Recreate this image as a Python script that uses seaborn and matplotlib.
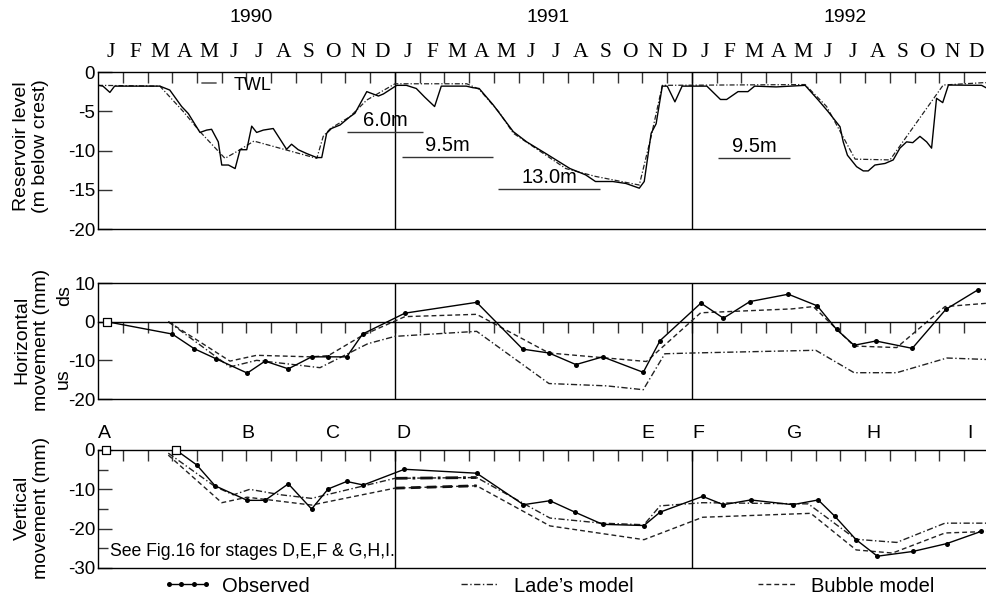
import matplotlib
matplotlib.use("Agg")
import matplotlib.pyplot as plt
import matplotlib.transforms as mtransforms
from matplotlib.lines import Line2D
import numpy as np
import pandas as pd
import seaborn as sns

# ---------------- data (x = months since 1 Jan 1990) ----------------
years = ["1990", "1991", "1992"]
month_letters = ["J", "F", "M", "A", "M", "J", "J", "A", "S", "O", "N", "D"]

# Reservoir level, observed (solid)
twl_observed = [
    (0.0, -1.7), (0.2, -1.8), (0.48, -2.6), (0.67, -1.8), (2.5, -1.8), (2.9, -2.3),
    (3.38, -4.4), (3.65, -5.3), (4.12, -7.7), (4.39, -7.4), (4.59, -7.3), (4.86, -8.9),
    (5.0, -11.85), (5.27, -11.85), (5.54, -12.3), (5.74, -9.9), (6.01, -9.9), (6.21, -6.9),
    (6.41, -7.7), (6.68, -7.4), (7.08, -7.2), (7.62, -9.85), (7.82, -9.2), (8.09, -9.9),
    (8.44, -10.4), (8.84, -10.9), (9.04, -10.9), (9.24, -7.8), (9.43, -7.2), (9.78, -6.75),
    (10.18, -5.7), (10.38, -5.26), (10.86, -2.5), (11.33, -3.06), (11.53, -2.8), (12.07, -1.7),
    (12.46, -1.7), (12.86, -2.1), (13.2, -3.2), (13.6, -4.4), (13.87, -1.8), (14.88, -1.8),
    (15.15, -2.0), (15.4, -2.1), (15.97, -4.2), (16.78, -7.6), (17.32, -8.9), (18.1, -10.4),
    (19.07, -12.3), (19.7, -13.1), (20.1, -13.95), (20.8, -13.95), (21.33, -14.2), (21.87, -14.8),
    (22.07, -13.95), (22.35, -7.8), (22.55, -6.6), (22.8, -1.8), (23.0, -1.8), (23.31, -3.8),
    (23.6, -1.8), (24.6, -1.8), (25.15, -3.5), (25.4, -3.5), (25.86, -2.5), (26.26, -2.5),
    (26.53, -1.8), (27.4, -1.9), (28.57, -1.7), (29.1, -3.57), (29.5, -5.05), (29.98, -6.97),
    (30.11, -8.9), (30.28, -10.6), (30.65, -12.06), (30.92, -12.6), (31.12, -12.6), (31.39, -11.85),
    (31.8, -11.65), (32.13, -11.2), (32.4, -9.7), (32.67, -8.9), (32.92, -9.0), (33.21, -8.2),
    (33.48, -8.9), (33.68, -9.7), (33.88, -3.35), (34.13, -3.9), (34.36, -1.66), (35.7, -1.7),
    (36.0, -2.2),
]
# Reservoir level, model input (dash-dot)
twl_model = [
    (0.0, -1.7), (2.5, -1.8), (3.45, -5.05), (4.12, -7.6), (5.13, -11.0), (5.6, -10.15),
    (6.3, -8.8), (8.84, -11.0), (9.1, -8.2), (9.39, -7.2), (10.18, -5.7), (10.86, -3.57),
    (12.0, -1.5), (14.9, -1.5), (15.4, -2.2), (16.2, -5.1), (16.78, -7.8), (18.9, -12.3),
    (20.1, -13.3), (21.87, -14.4), (22.35, -8.2), (22.8, -1.7), (28.57, -1.6), (29.44, -4.4),
    (30.11, -8.3), (30.59, -11.1), (32.0, -11.2), (34.15, -1.66), (35.77, -1.36), (36.0, -1.36),
]
# drawdown notes: (text, start month, end month, level)
drawdown_notes = [("6.0m", 10.06, 13.13, -7.64), ("9.5m", 12.3, 15.96, -10.8),
                  ("13.0m", 16.16, 20.28, -14.9), ("9.5m", 25.05, 27.96, -11.0)]

# Horizontal movement (mm)
horiz_start = [(0.35, 0.0)]
horiz_observed = [
    (0.35, 0.0), (3.0, -3.2), (3.89, -7.0), (4.77, -9.6), (6.03, -13.3), (6.75, -10.2),
    (7.69, -12.2), (8.63, -9.1), (9.3, -9.1), (10.05, -9.1), (10.69, -3.2), (12.4, 2.2),
    (15.3, 5.0), (17.16, -7.1), (18.22, -8.1), (19.31, -11.1), (20.39, -9.1), (22.03, -13.1),
    (22.71, -4.9), (24.36, 4.8), (25.27, 0.9), (26.34, 5.2), (27.89, 7.1), (29.06, 4.1),
    (29.84, -2.0), (30.55, -6.1), (31.43, -5.0), (32.9, -6.9), (34.26, 3.2), (35.57, 8.3),
]
horiz_lade = [
    (2.84, 0.0), (5.33, -11.7), (6.41, -10.0), (7.5, -10.8), (8.97, -11.9), (10.9, -5.7),
    (12.0, -3.8), (15.3, -2.5), (18.22, -16.0), (20.55, -16.6), (22.03, -17.6), (22.9, -8.3),
    (24.05, -8.1), (29.0, -7.4), (30.55, -13.2), (32.27, -13.2), (34.3, -9.4), (36.0, -9.8),
]
horiz_bubble = [
    (2.84, 0.0), (5.33, -10.2), (6.41, -8.7), (8.6, -9.1), (9.3, -8.8), (10.7, -3.5),
    (12.4, 1.3), (15.3, 1.9), (18.22, -8.1), (22.16, -10.3), (24.35, 2.3), (28.03, 3.3),
    (28.9, 3.9), (30.55, -6.3), (32.27, -6.7), (34.22, 3.9), (36.0, 4.8),
]

# Vertical movement (mm)
vert_start = [(0.32, 0.0), (3.15, 0.0)]
vert_observed = [
    (3.15, 0.0), (3.99, -3.8), (4.73, -9.1), (6.03, -12.8), (6.75, -12.8), (7.69, -8.6),
    (8.63, -15.0), (9.3, -9.9), (10.05, -8.0), (10.72, -8.9), (12.38, -4.9), (15.3, -5.9),
    (17.19, -13.9), (18.26, -12.9), (19.27, -15.8), (20.39, -18.9), (22.06, -19.2), (22.71, -15.8),
    (24.43, -11.8), (25.27, -13.9), (26.37, -12.7), (28.07, -13.9), (29.1, -12.7), (29.78, -16.9),
    (30.63, -22.8), (31.49, -27.0), (32.92, -25.8), (34.29, -23.8), (35.68, -20.7),
]
vert_lade = [
    (2.84, -0.8), (4.73, -9.3), (5.47, -11.4), (6.13, -10.0), (7.4, -11.4), (8.63, -12.3),
    (12.0, -7.2), (15.3, -7.0), (18.26, -17.3), (20.35, -18.6), (22.06, -19.0), (22.71, -14.2),
    (24.43, -13.4), (28.7, -13.7), (30.63, -22.7), (32.27, -23.5), (34.22, -18.6), (36.0, -18.6),
]
vert_bubble = [
    (2.84, -1.3), (5.0, -13.4), (6.03, -12.0), (8.63, -14.0), (12.0, -9.7), (15.3, -9.1),
    (18.26, -19.3), (22.06, -22.8), (24.43, -17.1), (28.8, -16.1), (30.63, -25.4), (32.1, -26.2),
    (34.22, -21.1), (36.0, -20.7),
]

stage_labels = ["A", "B", "C", "D", "E", "F", "G", "H", "I"]
stage_months = [0.28, 6.06, 9.5, 12.36, 22.22, 24.24, 28.16, 31.35, 35.23]

# ---------------- style ----------------
sns.set_theme(style="ticks")
plt.rcParams["font.family"] = ["Liberation Sans", "DejaVu Sans"]
plt.rcParams["axes.unicode_minus"] = False
plt.rcParams["axes.edgecolor"] = "black"
plt.rcParams["text.color"] = "black"
plt.rcParams["xtick.color"] = "#333333"
plt.rcParams["ytick.color"] = "#333333"
plt.rcParams["xtick.labelcolor"] = "black"
plt.rcParams["ytick.labelcolor"] = "black"
plt.rcParams["axes.linewidth"] = 1.0

W, H = 987, 598
fig = plt.figure(figsize=(W / 100, H / 100), dpi=100)
fig.patch.set_facecolor("white")


def axes_px(top, bottom, left=98, right=989):
    return fig.add_axes([left / W, 1 - bottom / H, (right - left) / W, (bottom - top) / H])


ax1 = axes_px(72, 229)
ax2 = axes_px(283, 399)
ax3 = axes_px(450, 568)

DASHDOT = (0, (4.5, 1.8, 1.0, 1.8))
DASHDOT_FINE = (0, (4.0, 1.6, 1.0, 1.6))
DASHED = (0, (3.5, 2.2))


def draw(ax, pts, **kw):
    df = pd.DataFrame(pts, columns=["month", "value"])
    sns.lineplot(data=df, x="month", y="value", ax=ax, sort=False, estimator=None,
                 legend=False, **kw)
    return ax.lines[-1]


def squares(ax, pts):
    df = pd.DataFrame(pts, columns=["month", "value"])
    sns.scatterplot(data=df, x="month", y="value", ax=ax, marker="s", s=28,
                    facecolor="white", edgecolor="black", linewidth=0.9,
                    zorder=6, clip_on=False, legend=False)


# ---- top panel: reservoir level ----
draw(ax1, twl_model, color="#222222", linewidth=0.9, linestyle=DASHDOT_FINE)
draw(ax1, twl_observed, color="black", linewidth=1.0)
for txt, m0, m1, lev in drawdown_notes:
    ax1.hlines(lev, m0, m1, color="#333333", linewidth=1.0)
    ax1.text((m0 + m1) / 2, lev + 0.75, txt, ha="center", va="baseline", fontsize=14.5)

# ---- middle panel: horizontal movement ----
draw(ax2, horiz_lade, color="#222222", linewidth=1.0, linestyle=DASHDOT)
draw(ax2, horiz_bubble, color="#222222", linewidth=1.0, linestyle=DASHED)
draw(ax2, horiz_observed, color="black", linewidth=1.0, marker="o",
     markersize=3.6, markeredgewidth=0, markevery=slice(1, None))
squares(ax2, horiz_start)

# ---- bottom panel: vertical movement ----
draw(ax3, vert_lade, color="#222222", linewidth=1.0, linestyle=DASHDOT)
draw(ax3, vert_bubble, color="#222222", linewidth=1.0, linestyle=DASHED)
draw(ax3, [p for p in vert_lade if 12.0 <= p[0] <= 15.3], color="#111111",
     linewidth=2.0, linestyle=DASHDOT)
draw(ax3, [p for p in vert_bubble if 12.0 <= p[0] <= 15.3], color="#111111",
     linewidth=2.0, linestyle=DASHED)
draw(ax3, vert_observed, color="black", linewidth=1.0, marker="o",
     markersize=3.6, markeredgewidth=0)
squares(ax3, vert_start)

# ---------------- axes formatting ----------------
boundaries = np.arange(1, 36)
for ax in (ax1, ax2, ax3):
    ax.set_xlim(0, 36)
    ax.set_xlabel("")
    ax.set_ylabel("")
    ax.spines["right"].set_visible(False)
    for yr_edge in (12, 24):
        ax.axvline(yr_edge, color="black", linewidth=1.0, zorder=1)
    ax.tick_params(axis="y", which="major", direction="in", length=10, width=1.0,
                   pad=2, labelsize=13.5, left=True, right=False)
    ax.set_facecolor("white")

# top panel
ax1.set_ylim(-20, 0)
ax1.set_yticks([0, -5, -10, -15, -20])
ax1.xaxis.tick_top()
ax1.set_xticks(boundaries)
ax1.set_xticklabels([])
month_centers = np.arange(36) + 0.5
ax1.set_xticks(month_centers, labels=month_letters * 3, minor=True,
               fontfamily="Liberation Serif", fontsize=15.5)
ax1.tick_params(axis="x", which="major", direction="in", length=8, width=1.0,
                top=True, bottom=False, labeltop=False, labelbottom=False)
ax1.tick_params(axis="x", which="minor", length=0, top=True, bottom=False,
                labeltop=True, labelbottom=False, pad=7)
ytrans = mtransforms.blended_transform_factory(ax1.transData, ax1.transAxes)
for i, yr in enumerate(years):
    ax1.text(12 * i + 6.2, 1.344, yr, transform=ytrans, ha="center", va="center",
             fontsize=14)
twl_handle = Line2D([], [], color="#666666", linewidth=1.3)
ax1.legend([twl_handle], ["TWL"], loc="center left", bbox_to_anchor=(0.1167, 0.917),
           frameon=False, handlelength=0.75, handletextpad=1.0, borderpad=0,
           borderaxespad=0, fontsize=13)

# middle panel
ax2.set_ylim(-20, 10)
ax2.set_yticks([10, 0, -10, -20])
ax2.spines["bottom"].set_position(("data", 0))
ax2.set_xticks(boundaries)
ax2.set_xticklabels([])
ax2.tick_params(axis="x", which="major", direction="out", length=8, width=1.0,
                bottom=True, top=False, labelbottom=False)
ax2.axhline(-20, color="black", linewidth=1.0, clip_on=False, zorder=3)

# bottom panel
ax3.set_ylim(-30, 0)
ax3.set_yticks([0, -10, -20, -30])
ax3.set_yticks([-5, -15, -25], minor=True)
ax3.tick_params(axis="y", which="minor", direction="in", length=7, width=1.0, left=True)
ax3.xaxis.tick_top()
ax3.set_xticks(boundaries)
ax3.set_xticklabels([])
ax3.tick_params(axis="x", which="major", direction="in", length=8, width=1.0,
                top=True, bottom=False, labeltop=False, labelbottom=False)
ax3.tick_params(axis="x", which="minor", length=0)
strans = mtransforms.blended_transform_factory(ax3.transData, ax3.transAxes)
for lab, m in zip(stage_labels, stage_months):
    ax3.text(m, 1.144, lab, transform=strans, ha="center", va="center", fontsize=14)
ax3.text(0.48, -25.7, "See Fig.16 for stages D,E,F & G,H,I.", ha="left", va="center",
         fontsize=12.7)

# ---------------- y labels ----------------
fig.text(31 / W, 1 - 146 / H, "Reservoir level\n(m below crest)", rotation=90,
         ha="center", va="center", fontsize=14, multialignment="center")
fig.text(32 / W, 1 - 340 / H, "Horizontal\nmovement (mm)", rotation=90,
         ha="center", va="center", fontsize=14, multialignment="center")
fig.text(65 / W, 1 - 296 / H, "ds", rotation=90, ha="center", va="center", fontsize=14)
fig.text(63 / W, 1 - 379 / H, "us", rotation=90, ha="center", va="center", fontsize=14)
fig.text(32 / W, 1 - 508 / H, "Vertical\nmovement (mm)", rotation=90,
         ha="center", va="center", fontsize=14, multialignment="center")

# ---------------- legends ----------------
obs_handle = Line2D([], [], color="black", linewidth=1.0, marker="o", markersize=3.6,
                    markeredgewidth=0)
lade_handle = Line2D([], [], color="#222222", linewidth=1.0, linestyle=DASHDOT)
bub_handle = Line2D([], [], color="#222222", linewidth=1.0, linestyle=DASHED)
leg_specs = [(obs_handle, "Observed", 163), (lade_handle, "Lade\u2019s model", 455),
             (bub_handle, "Bubble model", 752)]
for handle, text, xpx in leg_specs:
    fig.legend([handle], [text], loc="center left",
               bbox_to_anchor=(xpx / W, 1 - 586 / H), frameon=False,
               handlelength=2.45, handletextpad=0.5, borderpad=0, borderaxespad=0,
               numpoints=4, fontsize=14.5)

fig.savefig("out.png", dpi=100, facecolor="white")
